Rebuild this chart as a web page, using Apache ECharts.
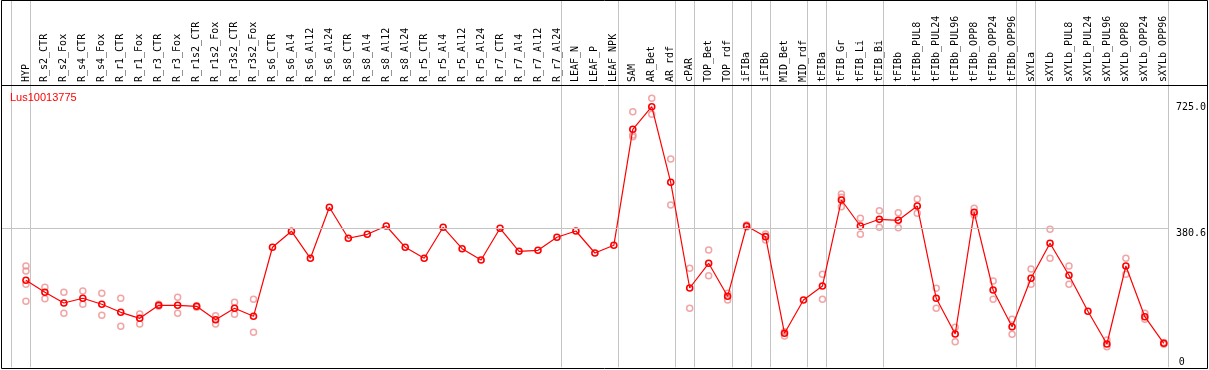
<!DOCTYPE html>
<html>
<head>
<meta charset="utf-8">
<script src="https://cdn.jsdelivr.net/npm/echarts@6/dist/echarts.min.js"></script>
<style>
html,body{margin:0;padding:0;background:#fff;}
#chart{width:1209px;height:370px;}
</style>
</head>
<body>
<div id="chart"></div>
<script>
var TITLE = 'Lus10013775';
var CATEGORIES = ['HYP','R_s2_CTR','R_s2_Fox','R_s4_CTR','R_s4_Fox','R_r1_CTR','R_r1_Fox','R_r3_CTR','R_r3_Fox','R_r1s2_CTR','R_r1s2_Fox','R_r3s2_CTR','R_r3s2_Fox','R_s6_CTR','R_s6_Al4','R_s6_Al12','R_s6_Al24','R_s8_CTR','R_s8_Al4','R_s8_Al12','R_s8_Al24','R_r5_CTR','R_r5_Al4','R_r5_Al12','R_r5_Al24','R_r7_CTR','R_r7_Al4','R_r7_Al12','R_r7_Al24','LEAF_N','LEAF_P','LEAF_NPK','SAM','AR_Bet','AR_rdf','cPAR','TOP_Bet','TOP_rdf','iFIBa','iFIBb','MID_Bet','MID_rdf','tFIBa','tFIB_Gr','tFIB_Li','tFIB_Bi','tFIBb','tFIBb_PUL8','tFIBb_PUL24','tFIBb_PUL96','tFIBb_OPP8','tFIBb_OPP24','tFIBb_OPP96','sXYLa','sXYLb','sXYLb_PUL8','sXYLb_PUL24','sXYLb_PUL96','sXYLb_OPP8','sXYLb_OPP24','sXYLb_OPP96'];
var MEANS = [237.8,205.0,175.7,188.6,172.2,150.3,133.9,169.4,169.4,166.7,130.1,161.2,139.4,328.0,372.0,297.9,437.3,352.6,363.5,386.2,328.0,297.9,382.6,324.1,293.2,379.9,317.0,319.8,355.3,372.5,312.4,333.4,650.4,712.2,505.6,216.7,284.2,194.0,386.2,357.0,92.9,183.9,222.2,457.2,386.2,404.5,401.7,440.8,188.6,91.0,423.6,211.3,111.0,243.2,338.9,251.4,153.0,63.7,276.8,138.3,65.6];
var REPLICATES = [
  [276.8,263.2,226.8,180.4],[218.6,187.5],[205.0,147.6],[208.5,172.2],[202.2,142.1],
  [188.6,112.1],[145.7,118.3],[172.0,167.0],[191.3,147.6],[168.0,164.0],
  [141.0,118.3],[177.6,144.8],[185.8,95.7],
  [],[],[],[],[],[],[],[],[],[],[],[],[],[],[],[],[],[],[],
  [698.6,634.9,630.2],[735.2,691.4],[569.3,443.6],[270.6,161.2],[320.6,250.3],[202.2,183.9],
  [388.9,383.5],[364.3,347.9],[97.3,85.5],[],[254.2,185.8],[473.6,465.0,438.9],
  [407.2,363.5],[428.0,382.6],[422.5,381.5],[460.0,420.9],[215.9,161.2],[109.3,70.0],
  [434.5,416.2],[235.9,185.8],[131.2,90.2],[268.7,226.8],[377.1,297.9],[276.8,226.8],
  [],[74.6,56.3],[297.9,254.2],[147.6,131.2],[68.0,63.0]
];
var GROUP_ENDS = [-1,0,28,31,34,35,37,38,39,41,42,45,52,53,60];
var Y_TICKS = [725.0, 380.6];
var Y_ZERO_TICK = [0];
var GRIDLINE_VALUE = 380.6;

var X_MIN = -1.315, X_MAX = 60.216, Y_MAX = 771.5, SEP_OFFSET = 0.21;
var MONO = 'DejaVu Sans Mono';

var meanData = MEANS.map(function(v,i){return [i,v];});
var repData = [];
REPLICATES.forEach(function(arr,i){arr.forEach(function(v){repData.push([i,v]);});});
var idx = CATEGORIES.map(function(c,i){return i;});

var chart = echarts.init(document.getElementById('chart'), null, {renderer:'canvas'});
var gridGeom = {left:1, right:38.3, top:85, bottom:2.7};
chart.setOption({
  animation:false,
  backgroundColor:'#fff',
  title:{text:TITLE, left:10, top:92, padding:0,
    textStyle:{fontFamily:'Liberation Sans', fontSize:11, fontWeight:'normal', color:'#ff0000'}},
  grid:[Object.assign({}, gridGeom), Object.assign({}, gridGeom)],
  xAxis:[
    {type:'value', gridIndex:0, position:'top', min:X_MIN, max:X_MAX,
     axisLine:{show:false}, axisTick:{show:false}, splitLine:{show:false},
     axisLabel:{customValues:idx, rotate:90, margin:3, fontFamily:MONO, fontSize:10, color:'#000',
       formatter:function(v){return CATEGORIES[Math.round(v)] || '';}}},
    {type:'value', gridIndex:1, show:false, min:X_MIN, max:X_MAX}
  ],
  yAxis:[
    {type:'value', gridIndex:0, position:'right', min:0, max:Y_MAX,
     axisLine:{show:false}, axisTick:{show:false}, splitLine:{show:false},
     axisLabel:{customValues:Y_TICKS, margin:8, verticalAlign:'top', fontFamily:MONO, fontSize:10, color:'#000',
       formatter:function(v){return v.toFixed(1);}}},
    {type:'value', gridIndex:1, position:'right', min:0, max:Y_MAX,
     axisLine:{show:false}, axisTick:{show:false}, splitLine:{show:false},
     axisLabel:{customValues:Y_ZERO_TICK, margin:8, verticalAlign:'bottom', fontFamily:MONO, fontSize:10, color:'#000',
       formatter:function(v){return String(v);}}}
  ],
  series:[
    {type:'custom', xAxisIndex:0, yAxisIndex:0, clip:false, silent:true, z:1,
     data:GROUP_ENDS.map(function(k){return [k,0];}),
     renderItem:function(params, api){
       var p = api.coord([api.value(0)+SEP_OFFSET, 0]);
       var x = Math.round(p[0]) + 0.5;
       var bottom = params.coordSys.y + params.coordSys.height;
       return {type:'line', shape:{x1:x, y1:0, x2:x, y2:bottom},
               style:{stroke:'#c4c4c4', lineWidth:1}};
     },
     markLine:{silent:true, symbol:'none', label:{show:false},
       lineStyle:{color:'#c4c4c4', type:'solid', width:1},
       data:[{yAxis:GRIDLINE_VALUE}]}
    },
    {type:'scatter', xAxisIndex:0, yAxisIndex:0, data:repData, symbol:'circle', symbolSize:6, z:2,
     itemStyle:{color:'rgba(0,0,0,0)', borderColor:'#ee8f8f', borderWidth:1.5}},
    {type:'line', xAxisIndex:0, yAxisIndex:0, data:meanData, symbol:'circle', symbolSize:6, z:3,
     showAllSymbol:true,
     lineStyle:{color:'#ff0000', width:1.2},
     itemStyle:{color:'rgba(0,0,0,0)', borderColor:'#ff0000', borderWidth:1.6}}
  ],
  graphic:[
    {type:'rect', z:100, silent:true, shape:{x:1.5, y:0.5, width:1206, height:368},
     style:{fill:null, stroke:'#000', lineWidth:1}},
    {type:'line', z:100, silent:true, shape:{x1:1, y1:85.5, x2:1208, y2:85.5},
     style:{stroke:'#000', lineWidth:1}}
  ]
});
</script>
</body>
</html>
